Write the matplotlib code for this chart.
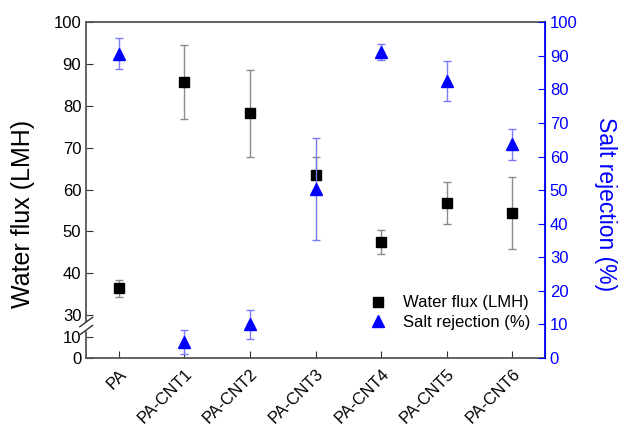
import matplotlib
matplotlib.use("Agg")
import matplotlib.pyplot as plt
import numpy as np
from matplotlib.lines import Line2D

plt.rcParams['font.family'] = ['Liberation Sans', 'DejaVu Sans']

samples = ['PA', 'PA-CNT1', 'PA-CNT2', 'PA-CNT3', 'PA-CNT4', 'PA-CNT5', 'PA-CNT6']
flux     = [36.4, 85.7, 78.2, 63.5, 47.5, 56.8, 54.4]
flux_err = [2.0, 8.9, 10.4, 4.3, 2.8, 5.0, 8.5]
rej      = [90.6, 4.8, 10.0, 50.3, 91.1, 82.4, 63.6]
rej_err  = [4.7, 3.5, 4.2, 15.2, 2.3, 6.0, 4.7]

BLUE = '#0000ff'
EBLUE = '#7a7aff'
GREY = '#8a8a8a'
SPINE = '#555555'


# piecewise scale: 0-10 compressed, 10-30 gap, 30-100 full
def fwd(y):
    y = np.asarray(y, dtype=float)
    return np.where(y <= 10, y * 2.1,
                    np.where(y <= 30, 21 + (y - 10) * 1.1, 43 + (y - 30) * 4.186))


def inv(u):
    u = np.asarray(u, dtype=float)
    return np.where(u <= 21, u / 2.1,
                    np.where(u <= 43, 10 + (u - 21) / 1.1, 30 + (u - 43) / 4.186))


fig = plt.figure(figsize=(6.2, 4.34), dpi=100)
ax = fig.add_axes([0.139, 0.175, 0.740, 0.774])
x = np.arange(len(samples))

ax.set_yscale('function', functions=(fwd, inv))
ax.errorbar(x, flux, yerr=flux_err, fmt='s', color='black', ms=6.5,
            ecolor=GREY, elinewidth=1.0, capsize=3, capthick=1.0)
ax.set_ylim(0, 100)
ax.set_yticks([0, 10, 30, 40, 50, 60, 70, 80, 90, 100])
ax.yaxis.set_minor_locator(matplotlib.ticker.NullLocator())
ax.set_xlim(-0.5, 6.5)
ax.set_xticks(x)
ax.set_xticklabels(samples, rotation=45, ha='right', rotation_mode='anchor')
ax.tick_params(direction='in', labelsize=12, length=5, color='#333333')
ax.tick_params(axis='x', pad=6)
ax.set_ylabel('Water flux (LMH)', fontsize=18)
ax.yaxis.set_label_coords(-0.112, 0.43)
for s in ['left', 'bottom', 'top']:
    ax.spines[s].set_color(SPINE)
    ax.spines[s].set_linewidth(1.3)

# axis break marks on the left spine
yb = fwd(20) / fwd(100)
ax.add_patch(plt.Rectangle((-0.01, yb - 0.012), 0.02, 0.024, transform=ax.transAxes,
                           color='white', clip_on=False, zorder=5))
for dy in (-0.012, 0.012):
    ax.plot([-0.014, 0.014], [yb + dy - 0.014, yb + dy + 0.014], transform=ax.transAxes,
            color='#333333', lw=1.0, clip_on=False, zorder=6)

ax2 = ax.twinx()
ax2.errorbar(x, rej, yerr=rej_err, fmt='^', color=BLUE, ms=8,
             ecolor=EBLUE, elinewidth=1.0, capsize=3, capthick=1.0)
ax2.set_ylim(0, 100)
ax2.set_yticks(np.arange(0, 101, 10))
ax2.tick_params(direction='in', labelsize=12, length=5, colors=BLUE)
ax2.spines['right'].set_color(BLUE)
ax2.spines['right'].set_linewidth(1.3)
for s in ['left', 'top', 'bottom']:
    ax2.spines[s].set_visible(False)
ax2.set_ylabel('Salt rejection (%)', fontsize=16.5, color=BLUE, rotation=270, va='center')
ax2.yaxis.set_label_coords(1.131, 0.458)

handles = [Line2D([], [], marker='s', color='black', ls='none', ms=6.5),
           Line2D([], [], marker='^', color=BLUE, ls='none', ms=8)]
ax2.legend(handles, ['Water flux (LMH)', 'Salt rejection (%)'], loc='lower right',
           bbox_to_anchor=(1.0, 0.04), frameon=False, fontsize=12,
           handletextpad=0.7, labelspacing=0.25, handlelength=1.5)

fig.savefig('out.png', dpi=100)
